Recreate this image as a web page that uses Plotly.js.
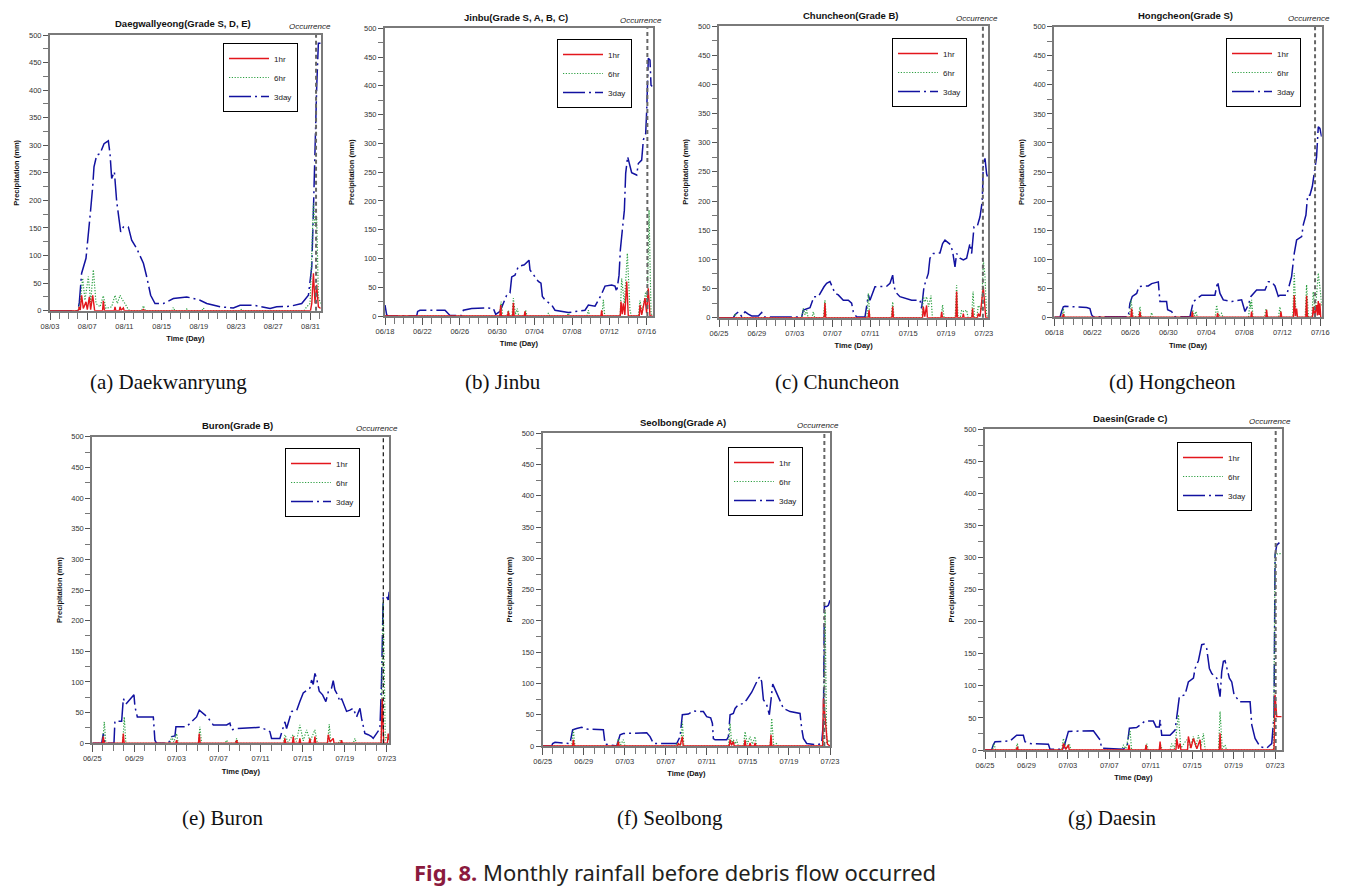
<!DOCTYPE html>
<html><head><meta charset="utf-8">
<script src="https://cdn.plot.ly/plotly-3.0.1.min.js"></script>
<style>html,body{margin:0;padding:0;background:#fff}#chart{width:1350px;height:890px}</style>
</head><body><div id="chart"></div>
<script>
// ---------- Titles, tick labels, captions ----------
const panelTitles = ["Daegwallyeong(Grade S, D, E)", "Jinbu(Grade S, A, B, C)", "Chuncheon(Grade B)", "Hongcheon(Grade S)", "Buron(Grade B)", "Seolbong(Grade A)", "Daesin(Grade C)"];
const captions = ["(a) Daekwanryung", "(b) Jinbu", "(c) Chuncheon", "(d) Hongcheon", "(e) Buron", "(f) Seolbong", "(g) Daesin"];
const tickDays = [0, 4, 8, 12, 16, 20, 24, 28];
const ticksA = ["08/03", "08/07", "08/11", "08/15", "08/19", "08/23", "08/27", "08/31"];
const ticksJun18 = ["06/18", "06/22", "06/26", "06/30", "07/04", "07/08", "07/12", "07/16"];
const ticksJun25 = ["06/25", "06/29", "07/03", "07/07", "07/11", "07/15", "07/19", "07/23"];
const seriesNames = ["1hr", "6hr", "3day"];
const occurrenceDay = [28.6, 28.06, 27.9, 27.45, 27.66, 27.45, 28.06];

// ---------- (a) Daegwallyeong: days since 08/03 ----------
const a_t1 = [0, 3.05, 3.15, 3.25, 3.40, 3.58, 3.87, 4.01, 4.23, 4.37, 4.59, 4.80, 5.65, 5.73, 5.85, 6.91, 6.99, 7.07, 7.45, 7.53, 7.65, 7.89, 7.97, 9.96, 10.04, 10.12, 28.0, 28.14, 28.32, 28.49, 28.67, 28.85, 29.1];
const a_v1 = [0, 0, 7, 1, 28, 4, 16, 2, 25, 2, 28, 0, 0, 18, 0, 0, 7, 0, 0, 7, 1, 5, 0, 0, 3, 0, 0, 13, 68, 13, 47, 7, 4];
const a_t6 = [0, 3.0, 3.23, 3.51, 3.76, 4.12, 4.37, 4.66, 4.95, 5.38, 5.73, 6.02, 6.63, 6.99, 7.24, 7.53, 7.81, 8.06, 8.42, 8.6, 9.85, 10.04, 10.25, 13.1, 13.26, 13.42, 14.55, 14.70, 14.85, 16.33, 16.49, 16.65, 20.45, 20.61, 20.77, 27.3, 27.60, 27.96, 28.32, 28.49, 28.67, 28.85, 29.1];
const a_v6 = [0, 0, 13, 59, 19, 62, 16, 74, 13, 7, 27, 4, 7, 28, 13, 28, 19, 13, 2, 0, 0, 9, 0, 0, 6, 0, 0, 3, 0, 0, 5, 0, 0, 3, 0, 0, 7, 13, 195, 152, 170, 25, 13];
const a_t3 = [0, 3.0, 3.15, 3.23, 3.40, 3.87, 4.23, 4.37, 4.59, 4.73, 5.02, 5.38, 5.81, 6.27, 6.45, 6.63, 6.92, 7.17, 7.60, 7.89, 8.42, 8.78, 9.32, 10.04, 10.39, 10.82, 11.29, 12.19, 13.26, 14.70, 16.13, 16.85, 18.28, 19.71, 20.43, 21.86, 23.66, 24.37, 25.81, 27.06, 27.78, 28.14, 28.32, 28.49, 28.67, 28.85, 29.1];
const a_v3 = [0, 0, 15, 28, 68, 95, 150, 183, 225, 261, 282, 285, 303, 308, 285, 240, 252, 198, 143, 152, 152, 128, 113, 86, 62, 28, 13, 13, 22, 25, 19, 13, 7, 5, 10, 10, 4, 7, 8, 13, 28, 80, 183, 303, 406, 485, 485];

// ---------- (b) Jinbu: days since 06/18 ----------
const b_t1 = [0, 12.29, 12.37, 12.45, 13.11, 13.19, 13.27, 13.65, 13.73, 13.81, 14.89, 14.97, 15.05, 23.09, 23.17, 23.25, 25.16, 25.24, 25.37, 25.49, 25.65, 25.85, 26.02, 27.19, 27.27, 27.45, 27.81, 27.98, 28.16, 28.34, 28.63];
const b_v1 = [0, 0, 19, 0, 0, 8, 0, 0, 23, 0, 0, 8, 0, 0, 10, 0, 0, 25, 3, 22, 2, 60, 0, 0, 19, 2, 31, 5, 48, 0, 0];
const b_t6 = [0, 12.26, 12.41, 12.6, 13.04, 13.19, 13.34, 13.58, 13.73, 13.95, 14.15, 14.3, 14.89, 15.04, 15.19, 17.32, 17.47, 17.62, 19.46, 19.61, 19.76, 21.6, 21.75, 21.9, 23.2, 23.35, 23.5, 25.15, 25.31, 25.60, 25.92, 26.20, 26.35, 27.1, 27.27, 27.5, 27.88, 28.05, 28.24, 28.45, 28.63];
const b_v6 = [0, 0, 25, 0, 0, 10, 0, 0, 31, 3, 13, 0, 0, 10, 0, 0, 5, 0, 0, 5, 0, 0, 10, 0, 0, 28, 0, 0, 65, 22, 109, 10, 0, 0, 27, 5, 42, 20, 184, 5, 0];
const b_t3 = [0, 0.18, 0.36, 3.39, 3.49, 3.74, 6.42, 6.77, 6.95, 8.2, 8.38, 9.27, 10.87, 11.59, 11.84, 12.30, 12.66, 13.01, 13.37, 13.55, 13.90, 14.26, 14.90, 15.15, 15.40, 15.51, 16.04, 16.40, 16.68, 16.83, 17.11, 17.83, 18.18, 19.61, 21.39, 21.75, 22.46, 23.10, 23.53, 24.24, 24.60, 24.78, 25.03, 25.17, 25.38, 25.60, 25.74, 25.95, 26.38, 26.92, 27.09, 27.45, 27.63, 27.88, 27.99, 28.09, 28.16, 28.34, 28.45, 28.59];
const b_v3 = [19, 2, 0, 0, 8, 10, 10, 5, 1, 1, 10, 13, 14, 13, 3, 8, 22, 36, 40, 68, 71, 86, 89, 94, 97, 80, 68, 60, 57, 34, 28, 19, 10, 6, 10, 19, 17, 36, 52, 54, 52, 42, 71, 115, 149, 184, 248, 277, 249, 245, 265, 271, 306, 317, 358, 399, 448, 445, 401, 399];

// ---------- (c) Chuncheon: days since 06/25 ----------
const c_t1 = [0, 11.12, 11.2, 11.28, 15.78, 15.86, 15.94, 18.28, 18.36, 18.44, 21.52, 21.60, 21.75, 21.95, 22.03, 23.46, 23.54, 23.62, 25.04, 25.12, 25.2, 25.75, 25.83, 25.91, 26.73, 26.81, 26.89, 27.33, 27.41, 27.6, 27.94, 28.12, 28.2, 28.47];
const c_v1 = [0, 0, 25, 0, 0, 13, 0, 0, 19, 0, 0, 19, 2, 21, 0, 0, 10, 0, 0, 45, 0, 0, 7, 0, 0, 16, 0, 0, 7, 2, 53, 5, 0, 0];
const c_t6 = [0, 1.54, 1.69, 1.84, 8.76, 8.91, 9.1, 9.27, 9.42, 9.82, 9.97, 10.12, 11.05, 11.2, 11.35, 15.64, 15.79, 15.94, 18.21, 18.36, 18.51, 21.45, 21.60, 21.78, 21.95, 22.16, 22.41, 22.56, 23.49, 23.64, 23.79, 24.97, 25.12, 25.27, 25.5, 25.65, 25.9, 26.18, 26.33, 26.71, 26.86, 27.01, 27.26, 27.41, 27.77, 27.94, 28.12, 28.29, 28.47];
const c_v6 = [0, 0, 7, 0, 0, 16, 5, 13, 0, 0, 10, 0, 0, 30, 0, 0, 42, 0, 0, 27, 0, 0, 36, 27, 36, 19, 38, 0, 0, 22, 0, 0, 56, 0, 0, 13, 10, 13, 0, 0, 45, 0, 0, 21, 13, 100, 70, 5, 0];
const c_t3 = [0, 1.52, 1.69, 2.04, 2.40, 2.75, 3.10, 3.45, 4.16, 4.51, 4.76, 8.74, 8.91, 9.62, 10.04, 10.50, 11.10, 11.38, 11.73, 11.91, 12.26, 12.61, 13.14, 13.67, 14.02, 14.20, 14.55, 15.43, 15.61, 15.79, 15.96, 16.49, 17.72, 18.08, 18.36, 18.50, 18.78, 19.13, 20.37, 21.25, 21.42, 21.67, 21.95, 22.13, 22.30, 22.66, 23.36, 23.64, 23.89, 24.49, 24.70, 24.95, 25.12, 25.48, 25.83, 26.18, 26.53, 26.71, 26.96, 27.31, 27.59, 27.80, 27.87, 27.94, 28.12, 28.29, 28.47];
const c_v3 = [0, 0, 5, 10, 2, 10, 6, 3, 3, 9, 1, 1, 13, 17, 36, 36, 53, 59, 62, 56, 42, 39, 30, 30, 25, 10, 1, 1, 25, 39, 30, 53, 54, 59, 73, 53, 42, 36, 30, 30, 16, 53, 67, 76, 102, 110, 111, 127, 133, 125, 113, 87, 110, 102, 99, 102, 127, 110, 156, 157, 173, 196, 219, 265, 273, 247, 236];

// ---------- (d) Hongcheon: days since 06/18 ----------
const d_t1 = [0, 0.87, 0.95, 1.03, 8.06, 8.14, 8.22, 8.94, 9.02, 9.1, 14.45, 14.53, 14.61, 17.11, 17.19, 17.27, 20.69, 20.77, 20.85, 22.27, 22.35, 22.43, 23.78, 23.86, 23.94, 25.18, 25.26, 25.38, 25.51, 25.6, 26.48, 26.56, 26.64, 27.18, 27.26, 27.42, 27.61, 27.7, 27.79, 27.88, 27.96, 28.05, 28.15];
const d_v1 = [0, 0, 6, 0, 0, 15, 0, 0, 10, 0, 0, 10, 0, 0, 7, 0, 0, 10, 0, 0, 13, 0, 0, 10, 0, 0, 38, 2, 15, 0, 0, 37, 0, 0, 18, 2, 21, 3, 28, 4, 24, 0, 0];
const d_t6 = [0, 0.8, 0.95, 1.1, 7.92, 8.07, 8.3, 8.85, 9.02, 9.17, 10.1, 10.25, 10.4, 14.41, 14.56, 14.75, 14.91, 15.06, 16.94, 17.09, 17.3, 17.61, 17.76, 20.45, 20.60, 20.68, 20.77, 20.92, 22.13, 22.28, 22.43, 23.6, 23.75, 23.9, 25.11, 25.26, 25.45, 26.41, 26.56, 26.75, 27.11, 27.26, 27.45, 27.79, 28.07, 28.15];
const d_v6 = [0, 0, 15, 0, 0, 30, 2, 0, 18, 0, 0, 8, 0, 0, 13, 2, 10, 0, 0, 21, 2, 7, 0, 0, 27, 15, 30, 0, 0, 15, 0, 0, 18, 0, 0, 76, 0, 0, 56, 0, 0, 44, 5, 76, 36, 20];
const d_t3 = [0, 0.6, 0.77, 0.95, 1.12, 3.40, 3.75, 3.93, 4.11, 7.79, 7.96, 8.21, 8.67, 8.91, 9.89, 10.25, 10.95, 11.12, 11.82, 11.93, 12.35, 12.70, 14.28, 14.46, 14.63, 15.51, 16.91, 17.19, 17.44, 17.79, 18.67, 19.72, 20.07, 20.42, 20.70, 21.30, 22.18, 22.53, 22.88, 23.23, 23.58, 23.75, 24.46, 24.98, 25.26, 25.51, 26.04, 26.21, 26.49, 26.67, 26.91, 27.16, 27.37, 27.61, 27.79, 27.96, 28.14];
const d_v3 = [0, 0, 10, 18, 19, 17, 15, 4, 1, 1, 24, 36, 41, 53, 54, 58, 61, 27, 27, 13, 10, 1, 1, 15, 27, 38, 38, 61, 41, 30, 27, 30, 10, 21, 36, 47, 47, 61, 61, 54, 36, 38, 38, 70, 110, 133, 139, 159, 176, 210, 210, 225, 251, 276, 328, 325, 311];

// ---------- (e) Buron: days since 06/25 ----------
const e_t1 = [0, 0.97, 1.05, 1.13, 2.87, 2.95, 3.03, 7.93, 8.01, 8.09, 10.09, 10.17, 10.25, 13.64, 13.72, 13.8, 18.23, 18.31, 18.39, 19.02, 19.10, 19.18, 19.65, 19.73, 19.81, 20.6, 20.68, 20.76, 21.08, 21.16, 21.24, 22.35, 22.43, 22.6, 22.90, 22.98, 23.61, 23.69, 23.77, 27.45, 27.56, 27.7, 28.05, 28.13, 28.23];
const e_v1 = [0, 0, 11, 0, 0, 16, 0, 0, 5, 0, 0, 16, 0, 0, 5, 0, 0, 8, 0, 0, 11, 0, 0, 8, 0, 0, 8, 0, 0, 11, 0, 0, 14, 2, 8, 0, 0, 5, 0, 0, 73, 0, 0, 16, 5];
const e_t6 = [0, 0.99, 1.14, 1.29, 2.89, 3.04, 3.19, 7.39, 7.54, 7.75, 8.01, 8.16, 10.08, 10.23, 10.38, 12.62, 12.77, 12.92, 13.57, 13.72, 13.87, 18.16, 18.31, 18.6, 19.10, 19.4, 19.73, 20.05, 20.37, 20.7, 21.16, 21.4, 22.37, 22.52, 22.67, 23.39, 23.54, 23.69, 24.81, 24.96, 25.11, 27.45, 27.65, 27.85, 28.13, 28.23];
const e_v6 = [0, 0, 35, 0, 0, 43, 0, 0, 11, 2, 16, 0, 0, 27, 0, 0, 5, 0, 0, 8, 0, 0, 14, 2, 14, 3, 30, 4, 22, 3, 22, 0, 0, 31, 0, 0, 5, 0, 0, 8, 0, 0, 231, 5, 14, 10];
const e_t3 = [0, 0.89, 1.05, 1.20, 2.06, 2.15, 2.79, 2.95, 3.20, 3.96, 4.05, 4.28, 5.80, 5.95, 6.11, 7.22, 7.38, 7.54, 7.86, 7.95, 8.96, 9.91, 10.17, 10.55, 10.93, 11.50, 12.77, 13.08, 13.24, 13.72, 15.93, 16.57, 16.88, 17.04, 17.83, 18.31, 18.47, 18.94, 19.42, 19.73, 20.05, 20.68, 20.84, 21.00, 21.16, 21.32, 21.57, 21.89, 22.20, 22.43, 22.74, 22.90, 23.06, 23.31, 23.54, 23.69, 23.92, 24.17, 24.49, 24.80, 25.12, 25.44, 25.59, 25.91, 26.23, 26.54, 26.70, 27.34, 27.49, 27.65, 27.97, 28.13, 28.22];
const e_v3 = [0, 0, 16, 0, 0, 36, 36, 73, 64, 79, 60, 43, 43, 5, 0, 0, 5, 11, 12, 27, 27, 43, 54, 49, 43, 30, 30, 33, 22, 24, 26, 22, 19, 8, 8, 35, 24, 52, 53, 68, 82, 90, 103, 96, 114, 106, 85, 79, 68, 84, 90, 102, 87, 79, 68, 73, 63, 52, 54, 57, 43, 57, 41, 16, 14, 11, 8, 24, 100, 239, 239, 234, 247];

// ---------- (f) Seolbong: days since 06/25 ----------
const f_t1 = [0, 2.91, 2.99, 3.07, 7.29, 7.37, 7.45, 13.14, 13.22, 13.4, 13.61, 13.69, 18.18, 18.26, 18.4, 18.58, 18.66, 19.64, 19.72, 19.8, 20.13, 20.21, 20.29, 20.62, 20.70, 20.78, 22.17, 22.25, 22.33, 27.28, 27.36, 27.52, 27.75, 28.0];
const f_v1 = [0, 0, 10, 0, 0, 7, 0, 0, 4, 1, 15, 0, 0, 10, 1, 7, 0, 0, 10, 0, 0, 5, 0, 0, 5, 0, 0, 18, 0, 0, 76, 50, 3, 0];
const f_t6 = [0, 2.84, 2.99, 3.14, 7.22, 7.37, 7.6, 7.86, 8.01, 12.91, 13.06, 13.2, 13.46, 13.61, 13.76, 18.11, 18.26, 18.42, 18.58, 18.75, 18.91, 19.06, 19.57, 19.72, 19.95, 20.21, 20.45, 20.70, 20.85, 22.17, 22.32, 22.5, 22.81, 22.96, 27.37, 27.52, 27.68, 27.84, 28.0];
const f_v6 = [0, 0, 26, 0, 0, 12, 2, 10, 0, 0, 4, 0, 0, 39, 0, 0, 36, 3, 10, 3, 10, 0, 0, 23, 3, 15, 3, 15, 0, 0, 44, 2, 4, 0, 0, 217, 5, 10, 5];
const f_t3 = [0, 0.88, 0.97, 1.20, 2.66, 2.92, 3.31, 3.80, 4.29, 5.91, 6.08, 6.56, 7.21, 7.54, 7.86, 10.14, 10.46, 10.79, 13.06, 13.39, 13.61, 14.20, 14.68, 15.66, 15.98, 16.37, 16.54, 16.63, 16.80, 17.93, 18.10, 18.26, 18.58, 18.75, 19.07, 19.56, 19.88, 20.37, 20.70, 21.02, 21.18, 21.34, 21.51, 21.83, 22.09, 22.42, 22.74, 22.97, 23.29, 23.46, 24.11, 25.08, 25.24, 25.41, 25.73, 26.71, 27.19, 27.36, 27.45, 27.68, 27.84, 28.0];
const f_v3 = [0, 0, 4, 6, 4, 26, 28, 30, 27, 26, 3, 2, 0, 18, 20, 21, 15, 4, 4, 15, 50, 51, 56, 55, 47, 45, 36, 12, 10, 10, 15, 50, 52, 60, 66, 68, 74, 86, 98, 108, 111, 103, 74, 66, 50, 99, 87, 79, 66, 60, 55, 52, 28, 12, 4, 2, 4, 39, 223, 223, 225, 233];

// ---------- (g) Daesin: days since 06/25 ----------
const g_t1 = [0, 3.04, 3.12, 3.2, 7.48, 7.56, 7.8, 8.05, 8.13, 13.82, 13.9, 13.98, 15.47, 15.55, 15.63, 16.82, 16.9, 16.98, 18.43, 18.51, 18.67, 18.83, 18.91, 19.55, 19.63, 19.88, 20.12, 20.45, 20.76, 20.84, 22.61, 22.69, 22.77, 27.9, 28.0, 28.16, 28.64];
const g_v1 = [0, 0, 5, 0, 0, 10, 1, 8, 0, 0, 8, 0, 0, 8, 0, 0, 13, 0, 0, 18, 2, 10, 0, 0, 21, 3, 18, 2, 16, 0, 0, 26, 0, 0, 86, 52, 52];
const g_t6 = [0, 0.72, 0.87, 1.02, 2.97, 3.12, 3.27, 7.41, 7.56, 7.85, 8.14, 8.29, 13.21, 13.36, 13.6, 14.0, 14.15, 15.46, 15.61, 15.76, 16.81, 16.96, 17.11, 17.87, 18.02, 18.3, 18.67, 18.9, 19.47, 19.8, 20.12, 20.35, 20.60, 20.85, 21.08, 21.25, 22.54, 22.69, 22.9, 23.17, 23.32, 27.85, 28.0, 28.32, 28.64];
const g_v6 = [0, 0, 10, 0, 0, 10, 0, 0, 18, 2, 10, 0, 0, 8, 2, 31, 0, 0, 10, 0, 0, 8, 0, 0, 10, 2, 55, 3, 16, 4, 21, 5, 23, 5, 26, 0, 0, 60, 2, 8, 0, 0, 304, 306, 306];
const g_t3 = [0, 0.64, 0.80, 0.97, 2.41, 3.06, 3.70, 3.86, 4.35, 6.12, 6.28, 7.56, 7.72, 8.05, 10.46, 10.78, 11.10, 11.26, 13.36, 13.74, 13.94, 14.64, 15.45, 16.25, 16.51, 16.83, 16.90, 17.06, 17.86, 18.35, 18.57, 18.76, 19.31, 19.63, 20.12, 20.28, 20.60, 20.92, 21.15, 21.40, 21.66, 21.89, 22.37, 22.53, 22.69, 22.85, 23.01, 23.17, 23.33, 23.59, 23.82, 24.04, 24.62, 25.59, 25.75, 26.07, 26.55, 27.20, 27.68, 27.90, 28.0, 28.16, 28.42];
const g_v3 = [0, 0, 8, 13, 14, 23, 23, 13, 10, 9, 1, 1, 10, 29, 30, 23, 16, 3, 1, 8, 34, 35, 45, 45, 36, 36, 47, 23, 23, 31, 55, 83, 86, 106, 112, 127, 139, 164, 165, 158, 127, 119, 112, 96, 83, 122, 138, 139, 130, 112, 106, 86, 75, 75, 39, 18, 5, 3, 10, 55, 304, 319, 323];

// ---------- assembly ----------
const W = 1350, H = 890;
const FONT = "Liberation Sans, Arial, sans-serif";
const series = [
  [[a_t1, a_v1], [a_t6, a_v6], [a_t3, a_v3]],
  [[b_t1, b_v1], [b_t6, b_v6], [b_t3, b_v3]],
  [[c_t1, c_v1], [c_t6, c_v6], [c_t3, c_v3]],
  [[d_t1, d_v1], [d_t6, d_v6], [d_t3, d_v3]],
  [[e_t1, e_v1], [e_t6, e_v6], [e_t3, e_v3]],
  [[f_t1, f_v1], [f_t6, f_v6], [f_t3, f_v3]],
  [[g_t1, g_v1], [g_t6, g_v6], [g_t3, g_v3]]
];
const tickSets = [ticksA, ticksJun18, ticksJun25, ticksJun18, ticksJun25, ticksJun25, ticksJun25];
// layout boxes in pixels: [left, right, top, bottom]
const boxes = [[50, 320.7, 35, 310.7], [385, 652.7, 28.3, 316], [719, 988.3, 26, 317.7], [1054.3, 1321.7, 26.7, 317.3],
               [92.3, 389.3, 436.7, 743.3], [542.7, 830, 433.3, 746], [985, 1281.7, 429, 750]];
const xEnd = [29.1, 28.63, 28.47, 28.15, 28.23, 28.0, 28.64];
const legendPos = [[223, 43], [557, 39], [892, 38], [1226, 38], [285, 448], [728, 447], [1177, 442]];
const captionPos = [[168, 382], [503, 382], [837, 382], [1172, 382], [223, 818], [670, 818], [1112, 818]];

const styles = [
  {color: "#e3161c", width: 1.4, dash: "solid"},
  {color: "#2ea043", width: 1.2, dash: "1.2px,1.6px"},
  {color: "#1212a0", width: 1.5, dash: "22px,4px,2px,4px"}
];

const traces = [];
const layout = {
  width: W, height: H, margin: {l: 0, r: 0, t: 0, b: 0},
  paper_bgcolor: "#fff", plot_bgcolor: "#fff", showlegend: true,
  font: {family: FONT, size: 8, color: "#222"},
  annotations: [], shapes: []
};

series.forEach((panel, i) => {
  const s = i === 0 ? "" : String(i + 1);
  const xa = "x" + s, ya = "y" + s, lg = "legend" + s;
  // draw 3day first, then 6hr, then 1hr on top
  [2, 1, 0].forEach(k => {
    traces.push({
      type: "scatter", mode: "lines", x: panel[k][0], y: panel[k][1],
      xaxis: xa, yaxis: ya, name: seriesNames[k], legend: lg, legendrank: k + 1,
      line: {color: styles[k].color, width: styles[k].width, dash: styles[k].dash},
      hoverinfo: "skip"
    });
  });
  const b = boxes[i];
  layout["xaxis" + s] = {
    domain: [b[0] / W, b[1] / W], anchor: ya, range: [0, xEnd[i]],
    tickmode: "array", tickvals: tickDays, ticktext: tickSets[i],
    ticks: "outside", ticklen: 7, tickwidth: 1, tickcolor: "#555",
    minor: {tickmode: "linear", tick0: 0, dtick: 1, ticks: "outside", ticklen: 6, tickcolor: "#777", tickwidth: 1},
    showline: true, linecolor: "#7a7a7a", linewidth: 2, mirror: true,
    showgrid: false, zeroline: false,
    tickfont: {family: FONT, size: 7.5, color: "#333"},
    title: {text: "Time (Day)", font: {family: FONT, size: 7.5, color: "#111", weight: "bold"}, standoff: 6}
  };
  layout["yaxis" + s] = {
    domain: [1 - b[3] / H, 1 - b[2] / H], anchor: xa, range: [0, 500],
    tickmode: "linear", tick0: 0, dtick: 50,
    ticks: "outside", ticklen: 5, tickwidth: 1, tickcolor: "#555",
    minor: {tickmode: "linear", tick0: 0, dtick: 25, ticks: "outside", ticklen: 5, tickcolor: "#777", tickwidth: 1},
    showline: true, linecolor: "#7a7a7a", linewidth: 2, mirror: true,
    showgrid: false, zeroline: false,
    tickfont: {family: FONT, size: 7.5, color: "#333"},
    title: {text: "Precipitation (mm)", font: {family: FONT, size: 7.5, color: "#111", weight: "bold"}, standoff: 8}
  };
  const lp = legendPos[i];
  layout[lg] = {
    x: lp[0] / W, y: 1 - lp[1] / H, xanchor: "left", yanchor: "top",
    bgcolor: "#fff", bordercolor: "#000", borderwidth: 1,
    font: {family: FONT, size: 8, color: "#222"}, itemwidth: 40, tracegroupgap: 0
  };
  // subplot title
  layout.annotations.push({
    xref: xa + " domain", yref: ya + " domain", x: 0.49, y: 1, yshift: 11,
    xanchor: "center", yanchor: "middle", showarrow: false,
    text: panelTitles[i], font: {family: FONT, size: 9.5, color: "#111", weight: "bold"}
  });
  // occurrence marker
  layout.shapes.push({
    type: "line", xref: xa, yref: ya + " domain", x0: occurrenceDay[i], x1: occurrenceDay[i], y0: 0, y1: 1,
    line: {color: i === 4 ? "#111" : "#666", width: i === 4 ? 1.2 : 2, dash: "4px,3px"}
  });
  layout.annotations.push({
    xref: xa, yref: ya + " domain", x: occurrenceDay[i], y: 1, yshift: 8, xshift: -6,
    xanchor: "center", yanchor: "middle", showarrow: false,
    text: "<i>Occurrence</i>", font: {family: FONT, size: 8, color: "#222"}
  });
  // caption below each panel
  const cp = captionPos[i];
  layout.annotations.push({
    xref: "paper", yref: "paper", x: cp[0] / W, y: 1 - cp[1] / H,
    xanchor: "center", yanchor: "middle", showarrow: false,
    text: captions[i], font: {family: "Liberation Serif, Times New Roman, serif", size: 21, color: "#111"}
  });
});

layout.annotations.push({
  xref: "paper", yref: "paper", x: 675 / W, y: 1 - 872 / H, xanchor: "center", yanchor: "middle", showarrow: false,
  text: "<b><span style='color:#8b1a3e'>Fig. 8.</span></b> Monthly rainfall before debris flow occurred",
  font: {family: "Noto Sans, Open Sans, sans-serif", size: 22, color: "#231f20"}
});

Plotly.newPlot("chart", traces, layout, {displayModeBar: false, staticPlot: true});
</script></body></html>
